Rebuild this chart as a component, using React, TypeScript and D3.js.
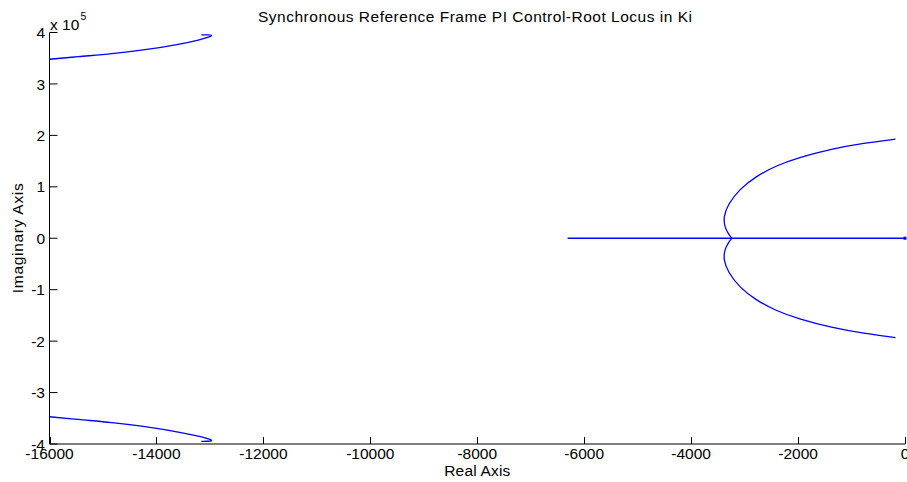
import React, { useEffect } from "react";
import * as d3 from "d3";

// Root locus branches, [real, imaginary] pairs
const upperLeftBranch: [number, number][] = [
  [-13160, 395500], [-13060, 395400], [-12975, 394600], [-12970, 393600],
  [-13000, 391800], [-13219, 385400], [-13593, 377100], [-14215, 366600],
  [-14837, 358800], [-15462, 353000], [-16000, 348000], [-16300, 345500],
];
const lowerLeftBranch: [number, number][] = [
  [-13160, -394800], [-13060, -394700], [-12975, -393900], [-12970, -392800],
  [-13000, -391000], [-13219, -384800], [-13593, -376700], [-14215, -366200],
  [-14837, -358300], [-15462, -352300], [-16000, -347000], [-16300, -344600],
];
const upperRightBranch: [number, number][] = [
  [-3237, 0], [-3300, 8000], [-3375, 22000], [-3395, 42000], [-3310, 66000],
  [-3090, 96000], [-2790, 120000], [-2435, 140000], [-2000, 156600],
  [-1370, 173800], [-770, 184900], [-178, 192600],
];
const lowerRightBranch: [number, number][] = [
  [-3237, 0], [-3300, -8000], [-3375, -22000], [-3395, -42000], [-3310, -66000],
  [-3090, -96000], [-2790, -120000], [-2435, -140000], [-2000, -156600],
  [-1370, -173800], [-770, -184900], [-178, -193000],
];
const realAxisSegment: [number, number][] = [
  [-6310, 0], [0, 0],
];
const originMarker: [number, number] = [0, 0];

const xTicks = [-16000, -14000, -12000, -10000, -8000, -6000, -4000, -2000, 0];
const yTicks = [-4, -3, -2, -1, 0, 1, 2, 3, 4];
const yExponent = 5;

const titleText = "Synchronous Reference Frame PI Control-Root Locus in Ki";
const xLabel = "Real Axis";
const yLabel = "Imaginary Axis";

const W = 907;
const H = 482;
const FONT = "'Liberation Sans', Arial, Helvetica, sans-serif";
const BLUE = "#0000ff";

export default function App() {
  useEffect(() => {
    document.body.style.margin = "0";
  }, []);

  const x = d3.scaleLinear().domain([-16000, 0]).range([49.5, 905]);
  const y = d3.scaleLinear().domain([-4e5, 4e5]).range([444, 32.5]);
  const scale = Math.pow(10, yExponent);

  // branches with a hook: interpolate through points in order
  const hookLine = d3
    .line<[number, number]>()
    .x((d) => x(d[0]))
    .y((d) => y(d[1]))
    .curve(d3.curveCatmullRom.alpha(0.5));
  // branches leaving the real axis: smooth B-spline
  const branchLine = d3
    .line<[number, number]>()
    .x((d) => x(d[0]))
    .y((d) => y(d[1]))
    .curve(d3.curveBasis);
  const straight = d3
    .line<[number, number]>()
    .x((d) => x(d[0]))
    .y((d) => y(d[1]));

  const [x0, x1] = x.range();
  const [yb, yt] = y.range();

  return (
    <svg width={W} height={H} style={{ display: "block", background: "#fff" }} fontFamily={FONT}>
      <defs>
        <clipPath id="plotArea">
          <rect x={x0} y={yt} width={x1 - x0 + 2} height={yb - yt} />
        </clipPath>
      </defs>

      <g clipPath="url(#plotArea)" fill="none" stroke={BLUE} strokeWidth={1.3}>
        <path d={hookLine(upperLeftBranch) ?? ""} />
        <path d={hookLine(lowerLeftBranch) ?? ""} />
        <path d={branchLine(upperRightBranch) ?? ""} />
        <path d={branchLine(lowerRightBranch) ?? ""} />
        <path d={straight(realAxisSegment) ?? ""} />
      </g>
      <rect
        x={x(originMarker[0]) - 1.5}
        y={y(originMarker[1]) - 1.5}
        width={3}
        height={3}
        fill={BLUE}
      />

      {/* axes */}
      <g stroke="#000" strokeWidth={1} fill="none">
        <line x1={x0} x2={x1} y1={yb} y2={yb} />
        <line x1={x0} x2={x0} y1={yt} y2={yb} />
        {xTicks.map((t) => (
          <line key={`xt${t}`} x1={Math.round(x(t)) + 0.5} x2={Math.round(x(t)) + 0.5} y1={yb} y2={yb - 7} />
        ))}
        {yTicks.map((t) => (
          <line key={`yt${t}`} x1={x0} x2={x0 + 8} y1={y(t * scale)} y2={y(t * scale)} />
        ))}
      </g>

      <g fontSize={15.5} fill="#000">
        {xTicks.map((t) => (
          <text key={`xl${t}`} x={x(t)} y={459} textAnchor="middle">
            {t}
          </text>
        ))}
        {yTicks.map((t) => (
          <text key={`yl${t}`} x={45} y={y(t * scale)} dy="0.36em" textAnchor="end">
            {t}
          </text>
        ))}
        <text x={50} y={30}>
          x 10
        </text>
        <text x={80.5} y={20} fontSize={10.5}>
          {yExponent}
        </text>
        <text x={475} y={22} textAnchor="middle" textLength={434} lengthAdjust="spacing">
          {titleText}
        </text>
        <text x={(x0 + x1) / 2} y={476} textAnchor="middle" textLength={66} lengthAdjust="spacing">
          {xLabel}
        </text>
        <text
          transform={`translate(23, ${(yt + yb) / 2}) rotate(-90)`}
          textAnchor="middle"
          textLength={110}
          lengthAdjust="spacing"
        >
          {yLabel}
        </text>
      </g>
    </svg>
  );
}
